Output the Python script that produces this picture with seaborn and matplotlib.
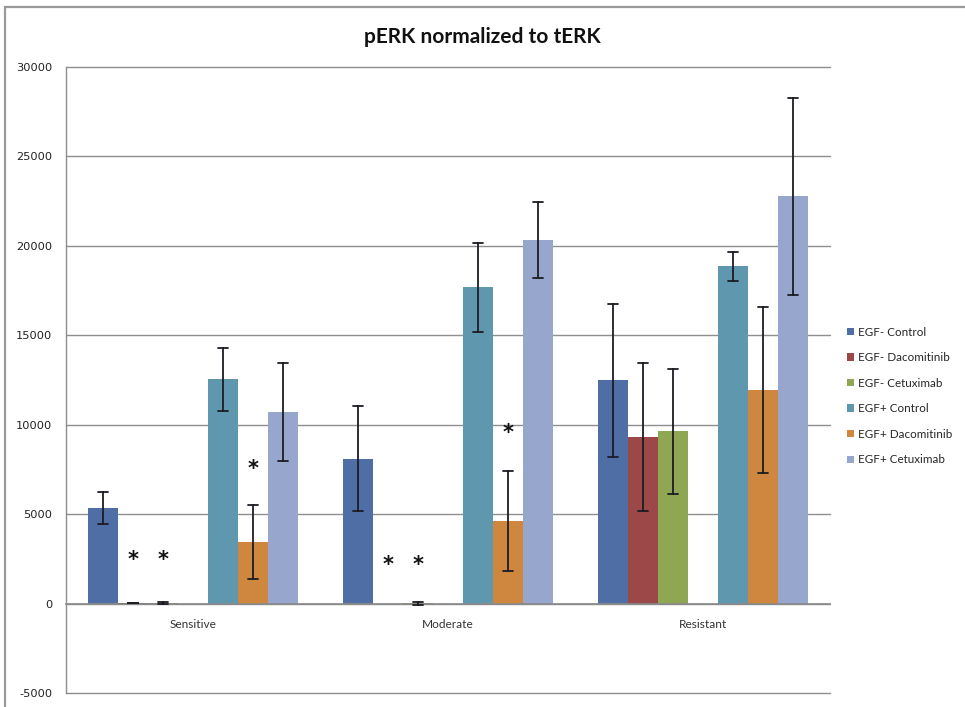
import numpy as np
import pandas as pd
import matplotlib
matplotlib.use("Agg")
import matplotlib.pyplot as plt
from matplotlib.colors import to_hex
from matplotlib.patches import Patch, Rectangle
import seaborn as sns

# Cell-line sensitivity groups
categories = ["Sensitive", "Moderate", "Resistant"]

# Treatment series (mean pERK/tERK and error per group; None = no error bar)
series = ["EGF- Control", "EGF- Dacomitinib", "EGF- Cetuximab",
          "EGF+ Control", "EGF+ Dacomitinib", "EGF+ Cetuximab"]

egf_neg_control = [5350, 8100, 12480]
egf_neg_control_err = [890, 2940, 4270]
egf_neg_dacomitinib = [30, 0, 9310]
egf_neg_dacomitinib_err = [20, None, 4120]
egf_neg_cetuximab = [30, 20, 9630]
egf_neg_cetuximab_err = [60, 80, 3490]
egf_pos_control = [12530, 17680, 18850]
egf_pos_control_err = [1740, 2500, 830]
egf_pos_dacomitinib = [3450, 4630, 11950]
egf_pos_dacomitinib_err = [2075, 2800, 4630]
egf_pos_cetuximab = [10700, 20330, 22760]
egf_pos_cetuximab_err = [2740, 2130, 5520]

# Significance markers: (group, series, height of the star)
stars = [("Sensitive", "EGF- Dacomitinib", 2440),
         ("Sensitive", "EGF- Cetuximab", 2440),
         ("Sensitive", "EGF+ Dacomitinib", 7550),
         ("Moderate", "EGF- Dacomitinib", 2150),
         ("Moderate", "EGF- Cetuximab", 2150),
         ("Moderate", "EGF+ Dacomitinib", 9550)]

colors = ["#4f6ea5", "#9c4848", "#8fa652", "#5f97ae", "#cf873f", "#97a6cd"]

means = [egf_neg_control, egf_neg_dacomitinib, egf_neg_cetuximab,
         egf_pos_control, egf_pos_dacomitinib, egf_pos_cetuximab]
errs = [egf_neg_control_err, egf_neg_dacomitinib_err, egf_neg_cetuximab_err,
        egf_pos_control_err, egf_pos_dacomitinib_err, egf_pos_cetuximab_err]

# Long-form table: each bar gets its lower and upper error bound,
# so the mean is the bar height and min/max give the error bar.
rows = []
for s, m_list, e_list in zip(series, means, errs):
    for c, m, e in zip(categories, m_list, e_list):
        if e is None:
            rows.append({"group": c, "series": s, "value": m})
        else:
            rows.append({"group": c, "series": s, "value": m - e})
            rows.append({"group": c, "series": s, "value": m + e})
df = pd.DataFrame(rows)

# An empty slot separates the EGF- and EGF+ bars within each group
spacer = " "
hue_order = series[:3] + [spacer] + series[3:]
palette = dict(zip(series, colors))
palette[spacer] = "#ffffff"

sns.set_style("white")
plt.rcParams["font.family"] = ["DejaVu Sans"]
plt.rcParams["axes.unicode_minus"] = False

fig = plt.figure(figsize=(9.65, 7.07), dpi=100)
ax = fig.add_axes([66 / 965, 1 - 693 / 707, (830 - 66) / 965, (693 - 67) / 707])

sns.barplot(data=df, x="group", y="value", hue="series", order=categories,
            hue_order=hue_order, palette=palette, estimator="mean",
            errorbar=lambda v: (v.min(), v.max()), width=0.825, gap=0,
            capsize=0.27, linewidth=0,
            err_kws={"color": "#1c1c24", "linewidth": 1.3, "zorder": 6},
            legend=False, saturation=1, ax=ax, zorder=3)

ax.set_ylim(-5000, 30000)
ax.set_yticks(np.arange(-5000, 30001, 5000))
ax.yaxis.grid(True, color="#8e8e8e", linewidth=1.0, zorder=0)
for gl in ax.get_ygridlines():
    gl.set_clip_on(False)
ax.set_axisbelow(True)
ax.set_xlabel("")
ax.set_ylabel("")

for side in ["top", "right"]:
    ax.spines[side].set_visible(False)
ax.spines["left"].set_color("#8e8e8e")
ax.spines["left"].set_linewidth(1.0)
ax.spines["bottom"].set_position(("data", 0))
ax.spines["bottom"].set_color("#8a8a8a")
ax.spines["bottom"].set_linewidth(1.2)
ax.spines["bottom"].set_zorder(4)

ax.tick_params(axis="y", length=0, pad=10, labelsize=8.2, labelcolor="#222222")
ax.tick_params(axis="x", length=0, pad=11, labelsize=8.6, labelcolor="#333333")
for lab in ax.get_xticklabels():
    lab.set_fontfamily(["Lato", "DejaVu Sans"])

# Locate each drawn bar by its colour (series) and position (group)
colour_to_series = {to_hex(c): s for s, c in zip(series, colors)}
centres = {}
for bar in ax.patches:
    s = colour_to_series.get(to_hex(bar.get_facecolor()))
    if s is None:
        continue
    xc = bar.get_x() + bar.get_width() / 2
    centres[(categories[int(round(xc))], s)] = xc

# Stars centred on the bars they refer to
for cat, level, y in stars:
    ax.text(centres[(cat, level)], y, "*", ha="center", va="center",
            fontsize=15, fontweight="bold", color="#111111", zorder=7)

fig.text(0.5, 1 - 37 / 707, "pERK normalized to tERK", ha="center", va="center",
         fontsize=15, fontweight="bold", family=["Lato", "DejaVu Sans"],
         color="#111111")

handles = [Patch(facecolor=c, edgecolor="none") for c in colors]
fig.legend(handles, series, loc="upper left",
           bbox_to_anchor=(836 / 965, 1 - 316 / 707), frameon=False,
           handlelength=0.6, handleheight=0.6, handletextpad=0.35,
           labelspacing=1.25, prop={"family": ["Lato", "DejaVu Sans"], "size": 8.4})

# Outer chart frame
fig.patches.append(Rectangle((5 / 965, -0.05), 1.2, 1.05 - 7 / 707,
                             transform=fig.transFigure, fill=False,
                             edgecolor="#9a9a9a", linewidth=1.6))

fig.savefig("out.png", dpi=100)
